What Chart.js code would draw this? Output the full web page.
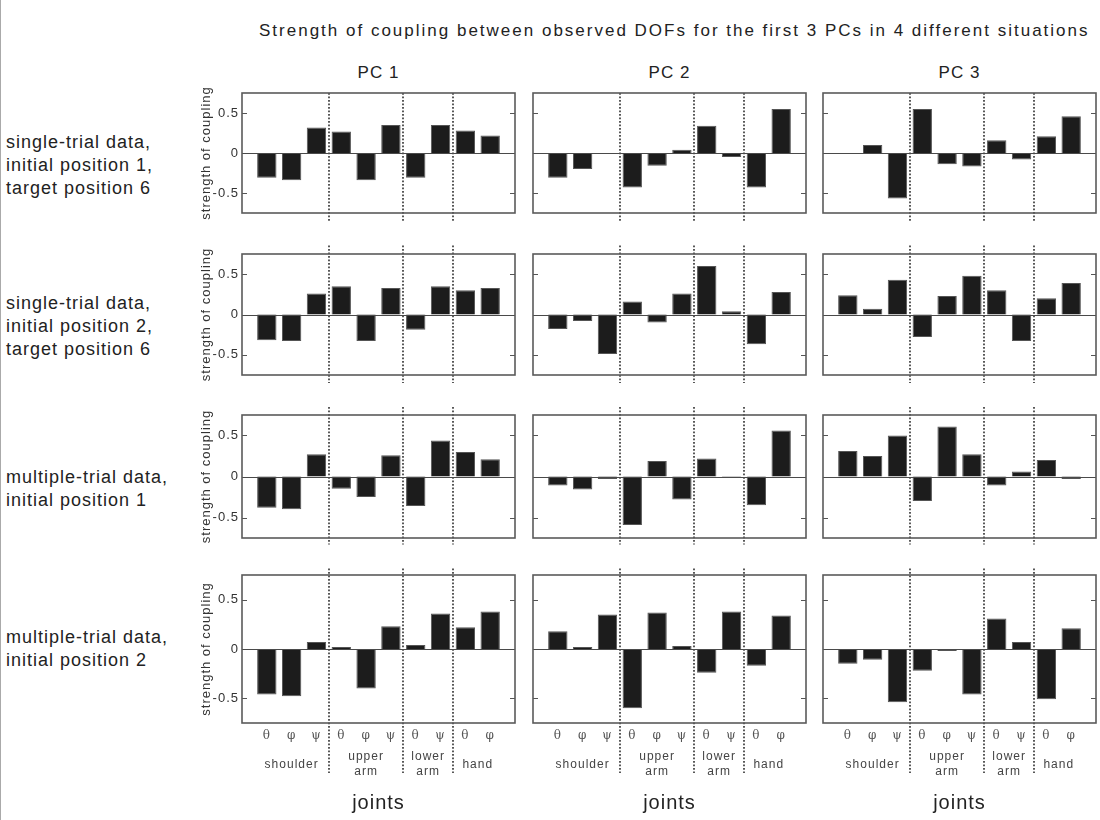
<!DOCTYPE html>
<html>
<head>
<meta charset="utf-8">
<script src="https://cdn.jsdelivr.net/npm/chart.js@4.4.1/dist/chart.umd.min.js"></script>
<style>
  body { margin: 0; background: #fff; }
  #fig { position: relative; width: 1100px; height: 820px; overflow: hidden;
         font-family: "Liberation Sans", Arial, sans-serif; color: #222; border-left: 1px solid #aaa; box-sizing: border-box; }
  .lbl { position: absolute; white-space: nowrap; }
  canvas { position: absolute; }
</style>
</head>
<body>
<div id="fig"></div>
<script>
// x labels (one per bar) and joint groups
const dofLabels = ['θ', 'φ', 'ψ', 'θ', 'φ', 'ψ', 'θ', 'ψ', 'θ', 'φ'];
const groupNames = [['shoulder'], ['upper', 'arm'], ['lower', 'arm'], ['hand']];
const groupSizes = [3, 3, 2, 2];
const yTickValues = [-0.5, 0, 0.5];
const pcNames = ['PC 1', 'PC 2', 'PC 3'];
const situationLabels = [
  ['single-trial data,', 'initial position 1,', 'target position 6'],
  ['single-trial data,', 'initial position 2,', 'target position 6'],
  ['multiple-trial data,', 'initial position 1'],
  ['multiple-trial data,', 'initial position 2']
];
const figTitle = 'Strength of coupling between observed DOFs for the first 3 PCs in 4 different situations';

// single-trial, initial position 1, target 6
const st1PC1 = [-0.31, -0.34, 0.32, 0.27, -0.34, 0.35, -0.31, 0.35, 0.28, 0.22];
const st1PC2 = [-0.31, -0.20, 0.00, -0.43, -0.16, 0.04, 0.34, -0.05, -0.43, 0.55];
const st1PC3 = [-0.01, 0.10, -0.57, 0.55, -0.14, -0.17, 0.16, -0.08, 0.21, 0.46];
// single-trial, initial position 2, target 6
const st2PC1 = [-0.32, -0.33, 0.26, 0.35, -0.33, 0.33, -0.19, 0.35, 0.30, 0.33];
const st2PC2 = [-0.18, -0.08, -0.49, 0.16, -0.10, 0.26, 0.60, 0.04, -0.37, 0.28];
const st2PC3 = [0.24, 0.07, 0.43, -0.28, 0.23, 0.48, 0.30, -0.33, 0.20, 0.39];
// multiple-trial, initial position 1
const mt1PC1 = [-0.38, -0.40, 0.27, -0.15, -0.25, 0.26, -0.36, 0.44, 0.30, 0.21];
const mt1PC2 = [-0.11, -0.16, -0.03, -0.59, 0.19, -0.28, 0.22, 0.005, -0.35, 0.56];
const mt1PC3 = [0.31, 0.25, 0.50, -0.30, 0.61, 0.27, -0.11, 0.06, 0.20, -0.03];
// multiple-trial, initial position 2
const mt2PC1 = [-0.46, -0.48, 0.07, 0.02, -0.40, 0.23, 0.04, 0.36, 0.22, 0.38];
const mt2PC2 = [0.18, 0.02, 0.35, -0.60, 0.37, 0.03, -0.24, 0.38, -0.17, 0.34];
const mt2PC3 = [-0.15, -0.11, -0.54, -0.22, -0.02, -0.46, 0.31, 0.07, -0.51, 0.21];

const panelValues = [
  [st1PC1, st1PC2, st1PC3],
  [st2PC1, st2PC2, st2PC3],
  [mt1PC1, mt1PC2, mt1PC3],
  [mt2PC1, mt2PC2, mt2PC3]
];

// layout (page pixels)
const boxLeft = [241, 532, 822];
const boxW = 273;
const boxTop = [93, 254, 415, 575];
const boxH = [144, 145, 147, 148];
const yAxisW = 60, padT = 11, padB = 11, padR = 6;
const xAxisH = 24, groupAxisH = 71;

// separators and group centres from the group sizes
const separators = [];
const groupCenters = [];
let start = 1;
groupSizes.forEach((n, i) => {
  groupCenters.push(start + (n - 1) / 2);
  if (i < groupSizes.length - 1) separators.push(start + n - 0.5);
  start += n;
});

const fig = document.getElementById('fig');

function addLabel(text, css) {
  const d = document.createElement('div');
  d.className = 'lbl';
  d.innerHTML = text;
  Object.assign(d.style, css);
  fig.appendChild(d);
}

addLabel(figTitle, { left: '258px', top: '20px', fontSize: '17px', letterSpacing: '2px', lineHeight: '22px' });
pcNames.forEach((t, c) => {
  addLabel(t, { left: boxLeft[c] + 'px', width: boxW + 'px', textAlign: 'center', top: '62px',
    fontSize: '17px', letterSpacing: '1px', lineHeight: '22px' });
});
situationLabels.forEach((lines, r) => {
  const zeroY = boxTop[r] + boxH[r] / 2;
  addLabel(lines.join('<br>'), { left: '5px', top: (zeroY - lines.length * 23 / 2) + 'px',
    fontSize: '18px', letterSpacing: '1px', lineHeight: '23px' });
});

const framePlugin = {
  id: 'frame',
  beforeDraw(chart) {
    chart.ctx.letterSpacing = '1px';
  },
  afterDatasetsDraw(chart, args, opts) {
    const { ctx, chartArea: a, scales: { x, y } } = chart;
    ctx.save();
    ctx.letterSpacing = '0px';
    // dotted separators between joints
    ctx.strokeStyle = '#3c3c3c';
    ctx.lineWidth = 1.7;
    ctx.setLineDash([1.7, 1.8]);
    separators.forEach(v => {
      const px = Math.round(x.getPixelForValue(v));
      ctx.beginPath();
      ctx.moveTo(px, a.top - opts.extTop);
      ctx.lineTo(px, a.bottom + opts.extBottom);
      ctx.stroke();
    });
    ctx.setLineDash([]);
    // zero line
    const y0 = Math.round(y.getPixelForValue(0)) + 0.5;
    ctx.strokeStyle = '#4a4a4a';
    ctx.lineWidth = 1.2;
    ctx.beginPath();
    ctx.moveTo(a.left, y0);
    ctx.lineTo(a.right, y0);
    ctx.stroke();
    // inner tick marks
    ctx.strokeStyle = '#555';
    ctx.lineWidth = 1.2;
    yTickValues.filter(v => v !== 0).forEach(v => {
      const py = Math.round(y.getPixelForValue(v)) + 0.5;
      ctx.beginPath();
      ctx.moveTo(a.left, py); ctx.lineTo(a.left + 5, py);
      ctx.moveTo(a.right - 5, py); ctx.lineTo(a.right, py);
      ctx.stroke();
    });
    // box
    ctx.strokeStyle = '#5a5a5a';
    ctx.lineWidth = 1.6;
    ctx.strokeRect(a.left, a.top, a.right - a.left, a.bottom - a.top);
    ctx.restore();
  }
};

panelValues.forEach((rowVals, r) => {
  const lastRow = r === panelValues.length - 1;
  rowVals.forEach((vals, c) => {
    const cv = document.createElement('canvas');
    const w = yAxisW + boxW + padR;
    const h = padT + boxH[r] + (lastRow ? xAxisH + groupAxisH : padB);
    cv.width = w; cv.height = h;
    cv.style.left = (boxLeft[c] - yAxisW) + 'px';
    cv.style.top = (boxTop[r] - padT) + 'px';
    fig.appendChild(cv);

    const extTop = r === 0 ? 0 : (boxTop[r] - boxTop[r - 1] - boxH[r - 1]) / 2;
    const extBottom = lastRow ? 50 : (boxTop[r + 1] - boxTop[r] - boxH[r]) / 2;

    const scales = {
      x: {
        type: 'linear', min: 0, max: 11, offset: false, weight: 1,
        display: lastRow,
        grid: { display: false, drawTicks: false }, border: { display: false },
        afterBuildTicks: s => { s.ticks = dofLabels.map((_, i) => ({ value: i + 1 })); },
        afterFit: s => { s.height = xAxisH; },
        ticks: {
          autoSkip: false, maxRotation: 0, padding: 6, color: '#555',
          font: { family: '"DejaVu Serif", "Liberation Serif", serif', size: 12 },
          callback: v => dofLabels[v - 1]
        }
      },
      y: {
        min: -0.75, max: 0.75,
        grid: { display: false, drawTicks: false }, border: { display: false },
        afterBuildTicks: s => { s.ticks = yTickValues.map(v => ({ value: v })); },
        afterFit: s => { s.width = yAxisW; },
        ticks: {
          display: c === 0, padding: 3, color: '#333',
          font: { family: '"Liberation Sans", Arial, sans-serif', size: 13 },
          callback: v => String(v)
        },
        title: {
          display: c === 0, text: 'strength of coupling', color: '#333',
          font: { family: '"Liberation Sans", Arial, sans-serif', size: 13 },
          padding: { top: 17, bottom: 0 }
        }
      }
    };
    if (lastRow) {
      scales.groups = {
        type: 'linear', position: 'bottom', min: 0, max: 11, offset: false, weight: 2,
        grid: { display: false, drawTicks: false }, border: { display: false },
        afterBuildTicks: s => { s.ticks = groupCenters.map(v => ({ value: v })); },
        afterFit: s => { s.height = groupAxisH; },
        ticks: {
          autoSkip: false, maxRotation: 0, padding: 10, color: '#444', crossAlign: 'center',
          font: { family: '"Liberation Sans", Arial, sans-serif', size: 12, lineHeight: 1.2 },
          callback: v => groupNames[groupCenters.indexOf(v)]
        },
        title: {
          display: true, text: 'joints', color: '#222',
          font: { family: '"Liberation Sans", Arial, sans-serif', size: 20 },
          padding: { top: 0, bottom: 3 }
        }
      };
    }

    new Chart(cv, {
      type: 'bar',
      data: {
        datasets: [{
          data: vals.map((v, i) => ({ x: i + 1, y: v })),
          backgroundColor: '#1c1c1c',
          borderColor: '#555',
          borderWidth: 1,
          categoryPercentage: 1,
          barPercentage: 0.78
        }]
      },
      options: {
        responsive: false,
        animation: false,
        layout: { padding: { top: padT, bottom: lastRow ? 0 : padB, left: 0, right: padR } },
        plugins: { legend: { display: false }, tooltip: { enabled: false }, frame: { extTop, extBottom } },
        scales
      },
      plugins: [framePlugin]
    });
  });
});
</script>
</body>
</html>
